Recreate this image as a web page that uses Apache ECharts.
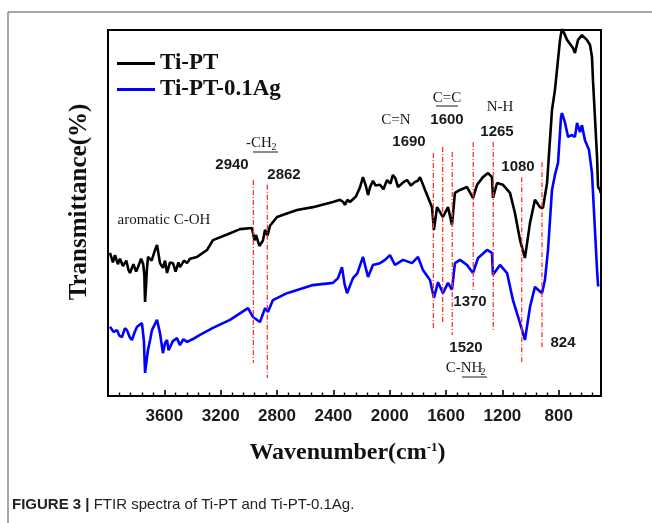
<!DOCTYPE html>
<html><head><meta charset="utf-8">
<script src="https://cdn.jsdelivr.net/npm/echarts@6/dist/echarts.min.js"></script>
<style>html,body{margin:0;padding:0;background:#fff}#c{width:652px;height:523px}</style>
</head><body><div id="c"></div><script>
// ---- data (wavenumber cm-1, transmittance arbitrary units) ----
const tiPT = [[3986,39.1],[3965,36.5],[3950,38.5],[3930,36.0],[3915,37.5],[3894,35.5],[3870,37.0],[3855,34.5],[3844,33.6],[3820,36.0],[3800,34.0],[3787,35.2],[3765,37.5],[3750,36.0],[3742,33.0],[3737,25.7],[3730,30.0],[3725,34.0],[3716,38.0],[3690,37.0],[3666,39.9],[3652,41.3],[3640,38.5],[3631,36.3],[3610,35.0],[3595,37.0],[3581,33.6],[3560,36.5],[3539,36.3],[3520,34.0],[3500,36.5],[3489,35.2],[3460,37.0],[3439,36.3],[3418,37.5],[3368,38.0],[3297,39.9],[3255,42.6],[3150,44.2],[3063,45.6],[2978,45.9],[2960,42.5],[2950,44.0],[2925,41.0],[2900,42.5],[2885,45.4],[2868,43.8],[2850,46.5],[2800,48.9],[2720,50.0],[2658,50.8],[2545,51.6],[2403,53.0],[2353,53.6],[2330,53.0],[2318,52.2],[2300,53.6],[2282,53.0],[2240,54.5],[2211,57.0],[2190,59.8],[2170,57.5],[2154,54.9],[2140,57.0],[2119,58.8],[2100,57.5],[2069,57.7],[2045,56.5],[2019,59.0],[1995,58.0],[1977,60.4],[1960,59.5],[1941,57.1],[1900,58.5],[1877,59.0],[1850,57.5],[1820,58.5],[1800,58.8],[1785,59.8],[1749,56.3],[1700,51.6],[1686,45.4],[1664,51.6],[1622,48.9],[1586,51.6],[1558,46.7],[1537,55.5],[1501,56.3],[1451,57.1],[1409,54.1],[1380,57.7],[1338,59.8],[1302,60.9],[1274,59.8],[1267,54.1],[1238,58.2],[1196,57.7],[1146,55.5],[1111,50.0],[1075,42.6],[1040,37.7],[1004,47.3],[969,53.6],[933,51.6],[912,51.4],[883,58.2],[848,78.1],[827,83.6],[791,97.3],[777,100.5],[741,97.3],[699,95.1],[685,93.7],[663,97.3],[635,98.6],[600,97.3],[578,95.9],[564,92.6],[557,86.3],[528,65.3],[521,57.1],[507,56.3],[502,55.5]];
const tiPTAg = [[3986,18.9],[3960,17.5],[3936,18.0],[3920,16.5],[3901,16.1],[3880,18.5],[3865,18.0],[3845,16.0],[3830,15.3],[3810,17.5],[3794,18.9],[3759,19.9],[3745,15.0],[3737,6.3],[3728,9.0],[3716,12.6],[3700,15.5],[3688,18.0],[3652,20.8],[3631,17.2],[3610,11.7],[3595,14.5],[3581,15.3],[3570,12.5],[3560,12.6],[3540,15.0],[3510,15.8],[3489,13.9],[3465,15.5],[3439,14.8],[3400,15.5],[3347,16.7],[3255,18.6],[3134,20.8],[3006,24.0],[2971,21.6],[2921,20.2],[2885,24.0],[2864,23.0],[2829,26.2],[2729,28.1],[2545,30.3],[2403,30.9],[2367,32.2],[2339,35.2],[2320,30.5],[2303,28.1],[2261,32.2],[2230,33.5],[2190,38.0],[2154,32.5],[2119,35.8],[2069,36.3],[2033,37.2],[1998,38.5],[1963,35.8],[1906,37.2],[1842,36.3],[1799,38.0],[1764,34.4],[1714,31.7],[1686,26.8],[1657,31.1],[1622,28.1],[1586,30.9],[1558,29.0],[1537,36.3],[1501,37.2],[1451,35.8],[1409,33.6],[1373,37.7],[1309,39.9],[1274,39.1],[1267,33.1],[1217,35.8],[1167,33.6],[1125,26.2],[1075,19.9],[1040,15.3],[1004,24.3],[969,29.8],[919,28.1],[898,31.7],[876,40.0],[848,56.3],[827,60.4],[805,63.7],[784,76.2],[777,77.3],[755,74.6],[734,70.8],[706,71.3],[685,70.8],[670,74.6],[649,72.1],[635,74.0],[614,69.9],[585,67.2],[564,60.9],[543,45.4],[528,34.4],[521,30.3],[515,30.0]];
const seriesNames = ['Ti-PT', 'Ti-PT-0.1Ag'];
const xMajorTicks = [3600, 3200, 2800, 2400, 2000, 1600, 1200, 800];
const xMinorTicks = [3920,3840,3760,3680,3520,3440,3360,3280,3120,3040,2960,2880,2720,2640,2560,2480,2320,2240,2160,2080,1920,1840,1760,1680,1520,1440,1360,1280,1120,1040,960,880,720,640,560];
// vertical reference lines for assigned bands
const peakLineX = [2968, 2869, 1690, 1624, 1556, 1407, 1265, 1063, 919];
const peakLineTop = [59.0, 57.7, 66.4, 68.0, 66.7, 69.4, 69.4, 59.8, 63.9];
const peakLineBottom = [9.0, 4.9, 18.0, 20.2, 16.7, 28.4, 17.5, 9.3, 13.1];

const SERIF = "'Liberation Serif','Times New Roman',serif";
const SANS = "'Liberation Sans',Arial,sans-serif";

function txt(x, y, text, opt) {
  opt = opt || {};
  return { type: 'text', x: x, y: y, silent: true, z: 10,
    style: Object.assign({ text: text, fill: '#1a1a1a', align: 'center', verticalAlign: 'middle',
      font: (opt.bold ? 'bold ' : '') + (opt.size || 15) + 'px ' + (opt.serif ? SERIF : SANS) }, opt.style || {}) };
}
function hline(x1, x2, y, color, w) {
  return { type: 'line', silent: true, z: 10, shape: { x1: x1, y1: y, x2: x2, y2: y }, style: { stroke: color || '#1a1a1a', lineWidth: w || 1 } };
}

const chart = echarts.init(document.getElementById('c'), null, { renderer: 'canvas' });
const series = [
  { name: seriesNames[0], type: 'line', data: tiPT, showSymbol: false, symbol: 'none', clip: true, z: 3,
    lineStyle: { color: '#000', width: 2.6 }, itemStyle: { color: '#000' } },
  { name: seriesNames[1], type: 'line', data: tiPTAg, showSymbol: false, symbol: 'none', clip: true, z: 3,
    lineStyle: { color: '#0000ff', width: 2.6 }, itemStyle: { color: '#0000ff' } }
];
peakLineX.forEach(function (x, i) {
  series.push({ type: 'line', data: [[x, peakLineTop[i]], [x, peakLineBottom[i]]], showSymbol: false, symbol: 'none', silent: true, z: 5,
    lineStyle: { color: '#ff3333', width: 1.3, type: [5, 2, 1, 2] } });
});

chart.setOption({
  animation: false,
  backgroundColor: '#fff',
  grid: { left: 108, top: 30, width: 493, height: 366, show: true, borderColor: '#000', borderWidth: 2, containLabel: false },
  legend: { data: seriesNames, left: 112, top: 47, orient: 'vertical', icon: 'rect', itemWidth: 38, itemHeight: 3, itemGap: 3,
    textStyle: { fontFamily: SERIF, fontWeight: 'bold', fontSize: 23, color: '#111' } },
  xAxis: [
    { type: 'value', min: 500, max: 4000, inverse: true, position: 'bottom',
      axisLine: { show: true, lineStyle: { color: '#000', width: 2 } },
      axisTick: { show: true, inside: true, length: 6, customValues: xMajorTicks, lineStyle: { color: '#000', width: 1.6 } },
      axisLabel: { customValues: xMajorTicks, formatter: function (v) { return String(v); },
        fontFamily: SANS, fontWeight: 'bold', fontSize: 17, color: '#1a1a1a', margin: 12 },
      splitLine: { show: false },
      name: 'Wavenumber(cm{sup|-1})', nameLocation: 'middle', nameGap: 45,
      nameTextStyle: { fontFamily: SERIF, fontWeight: 'bold', fontSize: 24, color: '#111', padding: [0, 14, 0, 0],
        rich: { sup: { fontFamily: SERIF, fontWeight: 'bold', fontSize: 13, verticalAlign: 'top', color: '#111' } } } },
    { type: 'value', min: 500, max: 4000, inverse: true, position: 'bottom',
      axisLine: { show: false },
      axisTick: { show: true, inside: true, length: 3.5, customValues: xMinorTicks, lineStyle: { color: '#000', width: 1.4 } },
      axisLabel: { show: false }, splitLine: { show: false } }
  ],
  yAxis: { type: 'value', min: 0, max: 100,
    axisLine: { show: false }, axisTick: { show: false }, axisLabel: { show: false }, splitLine: { show: false },
    name: 'Transmittance(%)', nameLocation: 'middle', nameGap: 16,
    nameTextStyle: { fontFamily: SERIF, fontWeight: 'bold', fontSize: 25, color: '#111', padding: [0, 0, 0, 22] } },
  series: series,
  graphic: [
    { type: 'line', silent: true, shape: { x1: 8, y1: 12, x2: 652, y2: 12 }, style: { stroke: '#8a8a8a', lineWidth: 1.5 } },
    { type: 'line', silent: true, shape: { x1: 8, y1: 12, x2: 8, y2: 523 }, style: { stroke: '#8a8a8a', lineWidth: 1.5 } },
    txt(259, 143, '-CH', { serif: true }), txt(274, 147, '2', { serif: true, size: 10 }),
    hline(253, 278, 152),
    txt(232, 165, '2940', { bold: true }),
    txt(284, 175, '2862', { bold: true }),
    txt(164, 220, 'aromatic C-OH', { serif: true }),
    txt(396, 120, 'C=N', { serif: true }),
    txt(447, 98, 'C=C', { serif: true }), hline(436, 458, 106),
    txt(447, 120, '1600', { bold: true }),
    txt(500, 107, 'N-H', { serif: true }),
    txt(497, 132, '1265', { bold: true }),
    txt(409, 142, '1690', { bold: true }),
    txt(518, 167, '1080', { bold: true }),
    txt(470, 302, '1370', { bold: true }),
    txt(466, 348, '1520', { bold: true }),
    txt(464, 368, 'C-NH', { serif: true }), txt(483, 372, '2', { serif: true, size: 10 }),
    hline(462, 487, 377),
    txt(563, 343, '824', { bold: true }),
    { type: 'text', x: 12, y: 505, silent: true,
      style: { text: '{b|FIGURE 3 |} FTIR spectra of Ti-PT and Ti-PT-0.1Ag.', fill: '#222', align: 'left', verticalAlign: 'middle',
        font: '15px ' + SANS, rich: { b: { fontWeight: 'bold', fontSize: 15, fontFamily: SANS, fill: '#222' } } } }
  ]
});
</script></body></html>
